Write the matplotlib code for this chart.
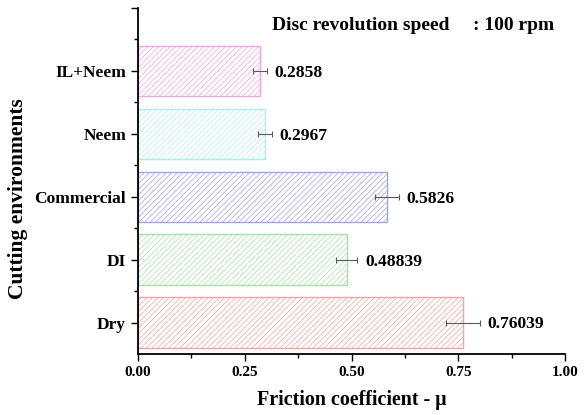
import matplotlib
matplotlib.use("Agg")
import matplotlib.pyplot as plt
from matplotlib.ticker import FixedLocator

plt.rcParams['font.family'] = ['Liberation Serif', 'DejaVu Serif']
plt.rcParams['font.weight'] = 'bold'
plt.rcParams['hatch.linewidth'] = 0.5

categories = ["Dry", "DI", "Commercial", "Neem", "IL+Neem"]
friction = [0.76039, 0.48839, 0.5826, 0.2967, 0.2858]
errors = [0.04, 0.025, 0.028, 0.016, 0.016]
value_labels = ["0.76039", "0.48839", "0.5826", "0.2967", "0.2858"]
edge_colors = ["#f5a3a3", "#a6e2a6", "#a3a3e8", "#b0ecec", "#eaa8ea"]
x_ticks = [0.0, 0.25, 0.5, 0.75, 1.0]
x_ticklabels = ["0.00", "0.25", "0.50", "0.75", "1.00"]

W, H = 584, 415
fig = plt.figure(figsize=(W / 100, H / 100), dpi=100)
ax = fig.add_axes([138 / W, 1 - 354 / H, (565 - 138) / W, (354 - 8) / H])

pos = list(range(len(categories)))
for p, v, c in zip(pos, friction, edge_colors):
    ax.barh(p, v, height=0.8, color="white", edgecolor=c, hatch="//////", linewidth=1.0)

ax.errorbar(friction, pos, xerr=errors, fmt="none", ecolor="#5a5a5a",
            elinewidth=0.8, capsize=2.5, capthick=0.8)

for p, v, e, lab in zip(pos, friction, errors, value_labels):
    ax.text(v + e + 0.018, p - 0.03, lab, va="center", ha="left",
            fontsize=12.6, fontweight="bold")

ax.set_xlim(0, 1.0)
ax.set_ylim(-0.5, 5.0)
ax.set_xticks(x_ticks)
ax.set_xticklabels(x_ticklabels, fontsize=11, fontweight="bold")
ax.xaxis.set_minor_locator(FixedLocator([t + 0.125 for t in x_ticks[:-1]]))

ax.yaxis.set_major_locator(FixedLocator(pos + [5]))
ax.set_yticklabels(categories + [""], fontsize=12.5, fontweight="bold")
ax.yaxis.set_minor_locator(FixedLocator([p + 0.5 for p in pos]))

ax.tick_params(axis="both", which="major", direction="out", length=5, width=1.0)
ax.tick_params(axis="both", which="minor", direction="out", length=3, width=1.0)
ax.spines["top"].set_visible(False)
ax.spines["right"].set_visible(False)
ax.spines["left"].set_linewidth(1.3)
ax.spines["bottom"].set_linewidth(1.3)

ax.set_xlabel("Friction coefficient - μ", fontsize=14.4, fontweight="bold", labelpad=8)
fig.text(18 / W, 1 - 199 / H, "Cutting environments", rotation=90,
         ha="center", va="center", fontsize=15.5, fontweight="bold")

fig.text(272 / W, 1 - 25 / H, "Disc revolution speed", ha="left", va="center",
         fontsize=14, fontweight="bold")
fig.text(473 / W, 1 - 25 / H, ": 100 rpm", ha="left", va="center",
         fontsize=14, fontweight="bold")

fig.savefig("out.png", dpi=100)
